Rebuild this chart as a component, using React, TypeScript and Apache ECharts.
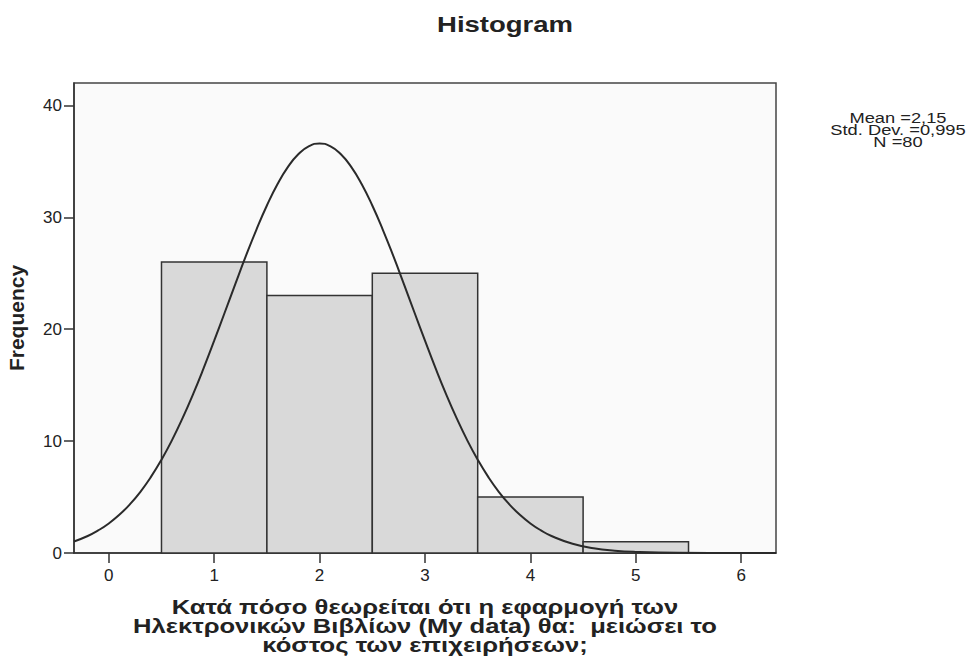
import React, { useEffect, useRef } from "react";
import * as echarts from "echarts";

const binStarts = [0.5, 1.5, 2.5, 3.5, 4.5];
const binEnds = [1.5, 2.5, 3.5, 4.5, 5.5];
const frequencies = [26, 23, 25, 5, 1];

const curveX = [-0.33, -0.2, -0.1, 0, 0.1, 0.2, 0.3, 0.4, 0.5, 0.6, 0.7, 0.8, 0.9, 1.0, 1.1, 1.2, 1.3, 1.4, 1.5, 1.6, 1.7, 1.8, 1.9, 2.0, 2.1, 2.2, 2.3, 2.4, 2.5, 2.6, 2.7, 2.8, 2.9, 3.0, 3.1, 3.2, 3.3, 3.4, 3.5, 3.6, 3.7, 3.8, 3.9, 4.0, 4.1, 4.2, 4.4, 4.6, 4.8, 5.0, 5.4, 6.0, 6.33];
const curveY = [1.03, 1.52, 2.02, 2.64, 3.41, 4.35, 5.47, 6.8, 8.34, 10.09, 12.05, 14.2, 16.52, 18.97, 21.49, 24.03, 26.52, 28.88, 31.05, 32.95, 34.5, 35.65, 36.36, 36.6, 36.36, 35.65, 34.5, 32.95, 31.05, 28.88, 26.52, 24.03, 21.49, 18.97, 16.52, 14.2, 12.05, 10.09, 8.34, 6.8, 5.47, 4.35, 3.41, 2.64, 2.02, 1.52, 0.83, 0.43, 0.21, 0.1, 0.02, 0, 0];

const xTicks = [0, 1, 2, 3, 4, 5, 6];
const yTicks = [0, 10, 20, 30, 40];

const titleText = "Histogram";
const statsText = "Mean =2,15\nStd. Dev. =0,995\nN =80";
const xAxisTitle = "Κατά πόσο θεωρείται ότι η εφαρμογή των\nΗλεκτρονικών Βιβλίων (My data) θα:  μειώσει το\nκόστος των επιχειρήσεων;";
const yAxisTitle = "Frequency";

const FONT = "'Liberation Sans', Arial, sans-serif";

export default function App() {
  const ref = useRef<HTMLDivElement>(null);
  useEffect(() => {
    if (!ref.current) return;
    const chart = echarts.init(ref.current, null, { renderer: "svg" });
    const bins = binStarts.map((s, i) => [s, binEnds[i], frequencies[i]]);
    const curve = curveX.map((x, i) => [x, curveY[i]]);
    chart.setOption({
      animation: false,
      backgroundColor: "#ffffff",
      textStyle: { fontFamily: FONT },
      grid: {
        left: 74,
        right: 192,
        top: 83,
        bottom: 113,
        outerBoundsMode: "none",
        containLabel: false,
        show: true,
        backgroundColor: "#fafafa",
        borderColor: "#444",
        borderWidth: 1.5,
      },
      xAxis: {
        type: "value",
        min: -0.33,
        max: 6.33,
        splitLine: { show: false },
        axisLine: { show: true, onZero: false, lineStyle: { color: "#333", width: 1.5 } },
        axisTick: { show: true, customValues: xTicks, length: 10, lineStyle: { color: "#333", width: 1.5 } },
        axisLabel: { customValues: xTicks, color: "#222", fontSize: 17, margin: 14, fontFamily: FONT },
      },
      yAxis: {
        type: "value",
        min: 0,
        max: 42,
        name: yAxisTitle,
        nameLocation: "middle",
        nameGap: 47,
        nameTextStyle: { fontSize: 21, fontWeight: "bold", color: "#222", fontFamily: FONT },
        splitLine: { show: false },
        axisLine: { show: true, onZero: false, lineStyle: { color: "#333", width: 1.5 } },
        axisTick: { show: true, customValues: yTicks, length: 10, lineStyle: { color: "#333", width: 1.5 } },
        axisLabel: { customValues: yTicks, color: "#222", fontSize: 17, margin: 12, fontFamily: FONT },
      },
      series: [
        {
          type: "custom",
          data: bins,
          encode: { x: [0, 1], y: 2 },
          renderItem: (params: any, api: any) => {
            const p0 = api.coord([api.value(0), api.value(2)]);
            const p1 = api.coord([api.value(1), 0]);
            return {
              type: "rect",
              shape: { x: p0[0], y: p0[1], width: p1[0] - p0[0], height: p1[1] - p0[1] },
              style: { fill: "#d9d9d9", stroke: "#333", lineWidth: 1.5 },
            };
          },
          z: 2,
        },
        {
          type: "line",
          data: curve,
          smooth: true,
          symbol: "none",
          lineStyle: { color: "#2a2a2a", width: 2 },
          z: 3,
        },
      ],
      graphic: [
        {
          type: "text",
          x: 505,
          y: 24,
          scaleX: 1.25,
          style: {
            text: titleText,
            font: `bold 22px ${FONT}`,
            fill: "#222",
            textAlign: "center",
            textVerticalAlign: "middle",
          },
        },
        {
          type: "text",
          x: 898,
          y: 112,
          scaleX: 1.22,
          style: {
            text: statsText,
            font: `15px ${FONT}`,
            lineHeight: 12,
            fill: "#222",
            textAlign: "center",
            textVerticalAlign: "top",
          },
        },
        {
          type: "text",
          x: 425,
          y: 598,
          scaleX: 1.28,
          style: {
            text: xAxisTitle,
            font: `bold 20px ${FONT}`,
            lineHeight: 19,
            fill: "#222",
            textAlign: "center",
            textVerticalAlign: "top",
          },
        },
      ],
    });
    return () => chart.dispose();
  }, []);
  return (
    <div
      ref={ref}
      style={{ position: "absolute", left: 0, top: 0, width: 968, height: 666 }}
    />
  );
}
